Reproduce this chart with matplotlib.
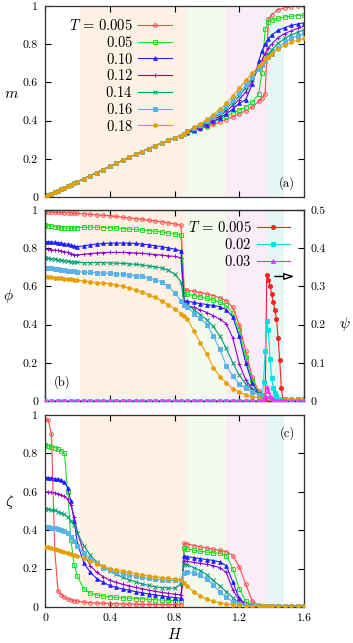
import matplotlib
matplotlib.use("Agg")
import matplotlib.pyplot as plt
from matplotlib.ticker import FuncFormatter, MultipleLocator

plt.rcParams['font.family'] = 'serif'
plt.rcParams['font.serif'] = ['cmr10', 'DejaVu Serif']
plt.rcParams['mathtext.fontset'] = 'cm'
plt.rcParams['axes.formatter.use_mathtext'] = True

# field grid shared by m, phi, zeta (denser around the jumps)
field = [0.00, 0.02, 0.04, 0.06, 0.08, 0.10, 0.12, 0.14, 0.16, 0.18, 0.20,
         0.24, 0.28, 0.32, 0.36, 0.40, 0.44, 0.48, 0.52, 0.56, 0.60, 0.64, 0.68, 0.72, 0.76, 0.80, 0.84,
         0.86,
         0.88, 0.92, 0.96, 1.00, 1.04, 1.08, 1.12, 1.16, 1.20, 1.24, 1.28, 1.32,
         1.34, 1.36, 1.38,
         1.40, 1.44, 1.48, 1.52, 1.56, 1.60]

temps = ['0.005', '0.05', '0.10', '0.12', '0.14', '0.16', '0.18']
colors = ['#ff4a4a', '#22dd22', '#2020ff', '#9400d3', '#009e73', '#56b4e9', '#e69f00']
markers = ['o', 's', '^', '+', 'x', 's', 'o']
filled = [False, False, True, True, True, True, True]

# shaded field regions
band_edges = [0.216, 0.869, 1.116, 1.373, 1.474]
band_colors = ['#fdf1e6', '#f4f9ee', '#faedf8', '#e4f7f4']

# (a) magnetisation: common low-field part, then per-T high-field part (H >= 0.88)
m_low = [0.000, 0.008, 0.016, 0.024, 0.032, 0.040, 0.048, 0.056, 0.064, 0.072, 0.080,
         0.096, 0.112, 0.128, 0.144, 0.160, 0.176, 0.192, 0.208, 0.224, 0.238, 0.253, 0.268, 0.282, 0.296, 0.310, 0.322,
         0.328]
m_005 = m_low + [0.334, 0.345, 0.357, 0.368, 0.380, 0.392, 0.405, 0.420, 0.435, 0.452, 0.470, 0.500,
                 0.520, 0.540, 0.930, 0.955, 0.980, 0.990, 0.995, 1.000, 1.000]
m_05 = m_low + [0.336, 0.348, 0.360, 0.374, 0.390, 0.407, 0.425, 0.440, 0.455, 0.470, 0.495, 0.540,
                0.650, 0.880, 0.915, 0.925, 0.935, 0.942, 0.946, 0.950, 0.952]
m_10 = m_low + [0.338, 0.350, 0.363, 0.378, 0.396, 0.415, 0.435, 0.460, 0.490, 0.510, 0.590, 0.710,
                0.765, 0.800, 0.828, 0.848, 0.872, 0.887, 0.898, 0.906, 0.912]
m_12 = m_low + [0.340, 0.353, 0.368, 0.385, 0.404, 0.425, 0.450, 0.478, 0.510, 0.550, 0.605, 0.680,
                0.715, 0.750, 0.780, 0.800, 0.835, 0.855, 0.870, 0.883, 0.894]
m_14 = m_low + [0.342, 0.357, 0.373, 0.392, 0.413, 0.437, 0.463, 0.494, 0.530, 0.572, 0.620, 0.675,
                0.700, 0.725, 0.750, 0.770, 0.805, 0.830, 0.848, 0.862, 0.875]
m_16 = m_low + [0.344, 0.360, 0.378, 0.398, 0.421, 0.447, 0.476, 0.508, 0.545, 0.585, 0.628, 0.672,
                0.693, 0.713, 0.733, 0.750, 0.782, 0.810, 0.830, 0.845, 0.856]
m_18 = m_low + [0.346, 0.364, 0.384, 0.406, 0.431, 0.460, 0.490, 0.528, 0.570, 0.610, 0.648, 0.685,
                0.703, 0.720, 0.735, 0.750, 0.775, 0.795, 0.810, 0.820, 0.830]

# (b) phi
phi_005 = [0.990, 0.990, 0.989, 0.988, 0.988, 0.987, 0.986, 0.985, 0.984, 0.983, 0.982,
           0.980, 0.977, 0.975, 0.972, 0.970, 0.966, 0.962, 0.958, 0.955, 0.951, 0.947, 0.942, 0.938, 0.933, 0.927, 0.920,
           0.582,
           0.580, 0.575, 0.568, 0.560, 0.552, 0.540, 0.525, 0.490, 0.400, 0.260, 0.125, 0.050,
           0.030, 0.018, 0.012,
           0.009, 0.006, 0.005, 0.005, 0.005, 0.005]
phi_05 = [0.922, 0.918, 0.915, 0.912, 0.910, 0.908, 0.906, 0.905, 0.905, 0.906, 0.908,
          0.910, 0.910, 0.910, 0.908, 0.907, 0.905, 0.903, 0.900, 0.898, 0.895, 0.892, 0.889, 0.885, 0.880, 0.875, 0.868,
          0.560,
          0.558, 0.552, 0.545, 0.537, 0.528, 0.517, 0.500, 0.460, 0.370, 0.230, 0.110, 0.040,
          0.024, 0.014, 0.010,
          0.007, 0.006, 0.005, 0.005, 0.005, 0.005]
phi_10 = [0.835, 0.834, 0.832, 0.830, 0.828, 0.826, 0.823, 0.820, 0.816, 0.811, 0.808,
          0.812, 0.818, 0.822, 0.825, 0.826, 0.827, 0.827, 0.826, 0.825, 0.822, 0.818, 0.813, 0.808, 0.802, 0.795, 0.786,
          0.525,
          0.522, 0.516, 0.510, 0.505, 0.500, 0.494, 0.478, 0.440, 0.340, 0.200, 0.095, 0.035,
          0.022, 0.015, 0.010,
          0.008, 0.006, 0.005, 0.005, 0.005, 0.005]
phi_12 = [0.795, 0.794, 0.792, 0.790, 0.788, 0.785, 0.782, 0.778, 0.772, 0.767, 0.765,
          0.768, 0.772, 0.775, 0.777, 0.778, 0.778, 0.778, 0.777, 0.775, 0.773, 0.770, 0.767, 0.764, 0.760, 0.757, 0.750,
          0.510,
          0.500, 0.490, 0.477, 0.463, 0.447, 0.428, 0.405, 0.330, 0.195, 0.110, 0.065, 0.037,
          0.027, 0.020, 0.014,
          0.010, 0.007, 0.006, 0.005, 0.005, 0.005]
phi_14 = [0.750, 0.748, 0.745, 0.742, 0.740, 0.737, 0.735, 0.732, 0.730, 0.728, 0.727,
          0.724, 0.724, 0.725, 0.724, 0.723, 0.722, 0.720, 0.718, 0.715, 0.712, 0.707, 0.702, 0.697, 0.685, 0.665, 0.625,
          0.510,
          0.500, 0.478, 0.452, 0.425, 0.390, 0.340, 0.275, 0.200, 0.135, 0.090, 0.060, 0.038,
          0.030, 0.022, 0.017,
          0.013, 0.010, 0.008, 0.007, 0.006, 0.006]
phi_16 = [0.698, 0.697, 0.695, 0.693, 0.690, 0.688, 0.685, 0.683, 0.680, 0.678, 0.677,
          0.675, 0.673, 0.671, 0.669, 0.668, 0.666, 0.663, 0.660, 0.656, 0.652, 0.645, 0.636, 0.622, 0.600, 0.568, 0.525,
          0.505,
          0.490, 0.458, 0.432, 0.400, 0.340, 0.270, 0.185, 0.130, 0.090, 0.068, 0.048, 0.030,
          0.024, 0.018, 0.014,
          0.012, 0.010, 0.009, 0.008, 0.008, 0.008]
phi_18 = [0.652, 0.650, 0.648, 0.646, 0.644, 0.642, 0.641, 0.639, 0.637, 0.635, 0.633,
          0.628, 0.624, 0.620, 0.617, 0.614, 0.608, 0.600, 0.592, 0.582, 0.570, 0.556, 0.542, 0.525, 0.505, 0.483, 0.458,
          0.445,
          0.430, 0.365, 0.305, 0.245, 0.175, 0.128, 0.095, 0.065, 0.047, 0.033, 0.023, 0.017,
          0.015, 0.013, 0.012,
          0.011, 0.010, 0.010, 0.010, 0.010, 0.010]

# (c) zeta
zeta_005 = [0.977, 0.975, 0.900, 0.300, 0.085, 0.065, 0.050, 0.043, 0.037, 0.033, 0.030,
            0.026, 0.023, 0.020, 0.019, 0.018, 0.017, 0.016, 0.015, 0.015, 0.014, 0.014, 0.013, 0.013, 0.013, 0.012, 0.012,
            0.332,
            0.328, 0.320, 0.313, 0.307, 0.300, 0.295, 0.288, 0.268, 0.210, 0.120, 0.030, 0.010,
            0.007, 0.005, 0.004,
            0.004, 0.004, 0.004, 0.004, 0.004, 0.004]
zeta_05 = [0.843, 0.840, 0.835, 0.830, 0.823, 0.815, 0.800, 0.600, 0.350, 0.220, 0.160,
           0.095, 0.072, 0.063, 0.057, 0.053, 0.050, 0.048, 0.046, 0.044, 0.042, 0.040, 0.038, 0.036, 0.035, 0.033, 0.032,
           0.305,
           0.302, 0.296, 0.290, 0.286, 0.283, 0.279, 0.268, 0.200, 0.095, 0.030, 0.012, 0.007,
           0.006, 0.005, 0.004,
           0.004, 0.004, 0.004, 0.004, 0.004, 0.004]
zeta_10 = [0.675, 0.673, 0.671, 0.669, 0.666, 0.661, 0.650, 0.620, 0.550, 0.450, 0.330,
           0.230, 0.180, 0.148, 0.128, 0.112, 0.102, 0.094, 0.087, 0.080, 0.074, 0.068, 0.063, 0.058, 0.053, 0.049, 0.045,
           0.265,
           0.262, 0.257, 0.252, 0.247, 0.242, 0.235, 0.215, 0.130, 0.045, 0.015, 0.008, 0.005,
           0.005, 0.004, 0.004,
           0.004, 0.004, 0.004, 0.004, 0.004, 0.004]
zeta_12 = [0.600, 0.599, 0.597, 0.594, 0.590, 0.585, 0.576, 0.560, 0.530, 0.470, 0.390,
           0.280, 0.215, 0.180, 0.158, 0.140, 0.128, 0.118, 0.110, 0.102, 0.095, 0.088, 0.082, 0.076, 0.071, 0.067, 0.063,
           0.240,
           0.238, 0.232, 0.227, 0.222, 0.215, 0.205, 0.180, 0.090, 0.035, 0.014, 0.008, 0.005,
           0.005, 0.004, 0.004,
           0.004, 0.004, 0.004, 0.004, 0.004, 0.004]
zeta_14 = [0.512, 0.510, 0.507, 0.503, 0.497, 0.490, 0.482, 0.470, 0.450, 0.425, 0.385,
           0.320, 0.270, 0.235, 0.208, 0.188, 0.170, 0.155, 0.142, 0.130, 0.120, 0.112, 0.106, 0.101, 0.098, 0.098, 0.120,
           0.225,
           0.218, 0.205, 0.190, 0.168, 0.138, 0.110, 0.080, 0.048, 0.022, 0.010, 0.006, 0.005,
           0.005, 0.004, 0.004,
           0.004, 0.004, 0.004, 0.004, 0.004, 0.004]
zeta_16 = [0.417, 0.416, 0.414, 0.411, 0.407, 0.402, 0.395, 0.383, 0.367, 0.345, 0.318,
           0.280, 0.252, 0.230, 0.205, 0.192, 0.182, 0.174, 0.166, 0.160, 0.154, 0.149, 0.145, 0.141, 0.139, 0.138, 0.142,
           0.175,
           0.182, 0.175, 0.165, 0.145, 0.112, 0.080, 0.050, 0.028, 0.015, 0.008, 0.006, 0.005,
           0.005, 0.004, 0.004,
           0.004, 0.004, 0.004, 0.004, 0.004, 0.004]
zeta_18 = [0.313, 0.310, 0.307, 0.303, 0.298, 0.293, 0.288, 0.283, 0.277, 0.272, 0.266,
           0.255, 0.240, 0.225, 0.212, 0.200, 0.193, 0.186, 0.180, 0.174, 0.168, 0.162, 0.157, 0.153, 0.150, 0.146, 0.140,
           0.125,
           0.108, 0.078, 0.057, 0.042, 0.030, 0.022, 0.016, 0.012, 0.009, 0.007, 0.006, 0.005,
           0.005, 0.005, 0.005,
           0.005, 0.005, 0.005, 0.005, 0.005, 0.005]

# (b) psi, right axis, finer grid around the spike
psi_field = [0.00, 0.04, 0.08, 0.12, 0.16, 0.20, 0.24, 0.28, 0.32, 0.36, 0.40, 0.44, 0.48, 0.52, 0.56, 0.60, 0.64,
             0.68, 0.72, 0.76, 0.80, 0.84, 0.88, 0.92, 0.96, 1.00, 1.04, 1.08, 1.12, 1.16, 1.20, 1.24, 1.28, 1.32,
             1.34, 1.35, 1.36, 1.37, 1.38, 1.39, 1.40, 1.41, 1.42, 1.43, 1.44, 1.45, 1.46, 1.47,
             1.48, 1.52, 1.56, 1.60]
psi_temps = ['0.005', '0.02', '0.03']
psi_colors = ['#ff2020', '#00e0e0', '#ff30ff']
psi_markers = ['o', 's', '^']
psi_005 = [0, 0, 0, 0, 0, 0, 0, 0, 0, 0, 0, 0, 0, 0, 0, 0, 0,
           0, 0, 0, 0, 0, 0, 0, 0, 0, 0, 0, 0, 0, 0, 0, 0, 0,
           0.000, 0.000, 0.000, 0.330, 0.318, 0.302, 0.280, 0.260, 0.238, 0.215, 0.165, 0.107, 0.035, 0.000,
           0, 0, 0, 0]
psi_02 = [0, 0, 0, 0, 0, 0, 0, 0, 0, 0, 0, 0, 0, 0, 0, 0, 0,
          0, 0, 0, 0, 0, 0, 0, 0, 0, 0, 0, 0, 0, 0, 0, 0, 0,
          0.000, 0.050, 0.130, 0.210, 0.185, 0.110, 0.060, 0.035, 0.020, 0.012, 0.006, 0.003, 0.000, 0.000,
          0, 0, 0, 0]
psi_03 = [0, 0, 0, 0, 0, 0, 0, 0, 0, 0, 0, 0, 0, 0, 0, 0, 0,
          0, 0, 0, 0, 0, 0, 0, 0, 0, 0, 0, 0, 0, 0, 0, 0, 0,
          0.000, 0.003, 0.012, 0.037, 0.026, 0.014, 0.007, 0.003, 0.000, 0.000, 0.000, 0.000, 0.000, 0.000,
          0, 0, 0, 0]

m_all = [m_005, m_05, m_10, m_12, m_14, m_16, m_18]
phi_all = [phi_005, phi_05, phi_10, phi_12, phi_14, phi_16, phi_18]
zeta_all = [zeta_005, zeta_05, zeta_10, zeta_12, zeta_14, zeta_16, zeta_18]
psi_all = [psi_005, psi_02, psi_03]

fs = 8.5      # tick labels
lfs = 10.5    # legend text
fmt = FuncFormatter(lambda v, p: '%g' % round(v, 3))

fig = plt.figure(figsize=(3.53, 6.43), dpi=100)
ax_a = fig.add_axes([0.1275, 0.6936, 0.7337, 0.2971])
ax_b = fig.add_axes([0.1275, 0.3764, 0.7337, 0.2970])
ax_c = fig.add_axes([0.1275, 0.0560, 0.7337, 0.2986])


def style(ax, right=True):
    ax.set_xlim(0, 1.6)
    ax.set_ylim(0, 1)
    ax.xaxis.set_major_locator(MultipleLocator(0.4))
    ax.yaxis.set_major_locator(MultipleLocator(0.2))
    ax.xaxis.set_major_formatter(fmt)
    ax.yaxis.set_major_formatter(fmt)
    ax.tick_params(direction='in', top=True, right=right, length=4, width=0.8,
                   labelsize=fs, pad=5)
    for s in ax.spines.values():
        s.set_linewidth(0.9)
        s.set_color('#333333')
    for i in range(len(band_colors)):
        ax.axvspan(band_edges[i], band_edges[i + 1], color=band_colors[i], lw=0, zorder=0)


def draw(ax, series):
    lines = []
    for i, y in enumerate(series):
        mfc = colors[i] if filled[i] else 'none'
        ln, = ax.plot(field, y, color=colors[i], marker=markers[i], ms=2.6, mew=0.7,
                      mfc=mfc, lw=0.8, zorder=2 + i * 0.1)
        lines.append(ln)
    return lines


# panel (a)
style(ax_a)
lines_a = draw(ax_a, m_all)
ax_a.tick_params(labelbottom=False)
ax_a.set_ylabel('$m$', rotation=0, fontsize=11)
ax_a.yaxis.set_label_coords(-0.13, 0.5)
ax_a.text(0.934, 0.073, '(a)', transform=ax_a.transAxes, fontsize=9, ha='center', va='center')
labels_a = [r'$T\,=\,%s$' % temps[0]] + ['$%s$' % t for t in temps[1:]]
# markerfirst=False right-aligns the label column
ax_a.legend(lines_a, labels_a, loc='upper left', bbox_to_anchor=(0.065, 0.975),
            frameon=False, markerfirst=False, fontsize=lfs, handlelength=2.3,
            handletextpad=0.35, labelspacing=0.12, borderpad=0)

# panel (b)
style(ax_b, right=False)
draw(ax_b, phi_all)
ax_b.tick_params(labelbottom=False)
ax_b.set_ylabel(r'$\phi$', rotation=0, fontsize=11)
ax_b.yaxis.set_label_coords(-0.143, 0.5)
ax_b.text(0.066, 0.1, '(b)', transform=ax_b.transAxes, fontsize=9, ha='center', va='center')

ax_r = ax_b.twinx()
ax_r.set_ylim(0, 0.5)
ax_r.yaxis.set_major_locator(MultipleLocator(0.1))
ax_r.yaxis.set_major_formatter(fmt)
ax_r.tick_params(direction='in', length=4, width=0.8, labelsize=fs, pad=5)
for s in ax_r.spines.values():
    s.set_linewidth(0.9)
    s.set_color('#333333')
psi_lines = []
for i, y in enumerate(psi_all):
    ln, = ax_r.plot(psi_field, y, color=psi_colors[i], marker=psi_markers[i], ms=3, mew=0.6,
                    lw=0.8, zorder=3)
    psi_lines.append(ln)
ax_r.set_ylabel(r'$\psi$', rotation=0, fontsize=11)
ax_r.yaxis.set_label_coords(1.158, 0.45)
ax_r.annotate('', xy=(1.54, 0.326), xytext=(1.42, 0.326),
              arrowprops=dict(arrowstyle='-|>,head_length=0.6,head_width=0.2', lw=1.0,
                              color='black', fc='white', shrinkA=0, shrinkB=0))
labels_b = [r'$T\,=\,%s$' % psi_temps[0]] + ['$%s$' % t for t in psi_temps[1:]]
ax_r.legend(psi_lines, labels_b, loc='upper right', bbox_to_anchor=(0.975, 0.985),
            frameon=False, markerfirst=False, fontsize=lfs, handlelength=2.3,
            handletextpad=0.35, labelspacing=0.12, borderpad=0)

# panel (c)
style(ax_c)
draw(ax_c, zeta_all)
ax_c.set_ylabel(r'$\zeta$', rotation=0, fontsize=11)
ax_c.yaxis.set_label_coords(-0.135, 0.5)
ax_c.set_xlabel('$H$', fontsize=11)
ax_c.xaxis.set_label_coords(0.5, -0.105)
ax_c.text(0.934, 0.906, '(c)', transform=ax_c.transAxes, fontsize=9, ha='center', va='center')

fig.savefig('out.png', dpi=100)
